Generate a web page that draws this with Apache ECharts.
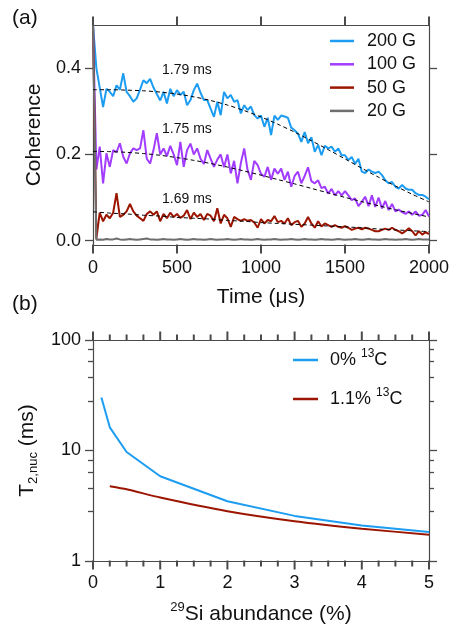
<!DOCTYPE html>
<html>
<head>
<meta charset="utf-8">
<script src="https://cdn.jsdelivr.net/npm/echarts@6/dist/echarts.min.js"></script>
<style>
html,body{margin:0;padding:0;background:#fff;}
#chart{width:456px;height:628px;}
</style>
</head>
<body>
<div id="chart"></div>
<script>
// ---------- Panel (a) data ----------
const TIME_STEP_US = 20;
const SERIES_NAMES_A = ['200 G', '100 G', '50 G', '20 G'];
const COH_200G = [0.50,0.40,0.355,0.31,0.352,0.345,0.335,0.36,0.35,0.388,
 0.345,0.335,0.322,0.33,0.35,0.372,0.365,0.375,0.355,0.34,
 0.325,0.345,0.318,0.352,0.335,0.349,0.338,0.345,0.314,0.326,
 0.349,0.364,0.343,0.326,0.326,0.306,0.287,0.322,0.291,0.345,
 0.33,0.338,0.322,0.326,0.295,0.314,0.303,0.311,0.291,0.283,
 0.29,0.264,0.285,0.245,0.29,0.28,0.29,0.288,0.285,0.262,
 0.256,0.248,0.229,0.252,0.226,0.24,0.206,0.222,0.198,0.22,
 0.214,0.218,0.206,0.214,0.198,0.198,0.187,0.194,0.178,0.19,
 0.16,0.157,0.165,0.16,0.157,0.16,0.152,0.14,0.133,0.136,
 0.125,0.121,0.129,0.121,0.118,0.118,0.11,0.106,0.106,0.102,
 0.096];
const COH_100G = [0.50,0.165,0.218,0.133,0.2025,0.171,0.21,0.205,0.2256,0.1946,
 0.179,0.2025,0.214,0.21,0.214,0.256,0.19,0.179,0.21,0.249,
 0.2,0.214,0.196,0.22,0.2,0.175,0.229,0.171,0.21,0.225,
 0.2,0.214,0.19,0.178,0.21,0.19,0.171,0.188,0.2,0.17,
 0.2,0.156,0.185,0.133,0.18,0.214,0.164,0.141,0.185,0.175,
 0.155,0.148,0.171,0.141,0.167,0.155,0.167,0.141,0.16,0.125,
 0.15,0.16,0.133,0.15,0.17,0.138,0.133,0.14,0.122,0.125,
 0.109,0.12,0.105,0.115,0.105,0.115,0.105,0.094,0.098,0.08,
 0.09,0.102,0.08,0.105,0.078,0.1,0.075,0.092,0.071,0.085,
 0.068,0.072,0.066,0.062,0.068,0.06,0.068,0.058,0.06,0.071,
 0.056];
const COH_50G = [0.50,0.005,0.065,0.045,0.06,0.052,0.065,0.11,0.055,0.06,
 0.068,0.085,0.068,0.058,0.052,0.046,0.062,0.068,0.06,0.068,
 0.045,0.062,0.052,0.065,0.055,0.062,0.053,0.058,0.071,0.05,
 0.065,0.055,0.062,0.048,0.062,0.058,0.045,0.075,0.04,0.06,
 0.052,0.032,0.055,0.05,0.046,0.05,0.046,0.048,0.042,0.03,
 0.05,0.04,0.048,0.045,0.057,0.043,0.046,0.04,0.052,0.036,
 0.043,0.046,0.032,0.04,0.055,0.04,0.03,0.045,0.033,0.04,
 0.036,0.032,0.036,0.032,0.03,0.034,0.03,0.025,0.028,0.03,
 0.026,0.03,0.028,0.025,0.022,0.022,0.025,0.028,0.025,0.03,
 0.025,0.022,0.017,0.022,0.029,0.022,0.012,0.022,0.014,0.02,
 0.015];
const COH_20G = [0.50,0.002,0.003,0.002,0.004,0.003,0.003,0.005,0.003,0.002,
 0.003,0.004,0.003,0.002,0.003,0.004,0.005,0.003,0.003,0.002,
 0.003,0.004,0.003,0.003,0.002,0.003,0.004,0.003,0.002,0.003,
 0.004,0.003,0.003,0.002,0.003,0.004,0.003,0.002,0.003,0.003,
 0.004,0.003,0.002,0.003,0.004,0.003,0.003,0.002,0.003,0.004,
 0.003,0.002,0.003,0.003,0.004,0.003,0.002,0.003,0.003,0.004,
 0.003,0.002,0.003,0.004,0.003,0.003,0.002,0.003,0.004,0.003,
 0.003,0.002,0.003,0.004,0.003,0.002,0.003,0.003,0.004,0.003,
 0.002,0.003,0.004,0.003,0.003,0.002,0.003,0.004,0.003,0.003,
 0.002,0.003,0.003,0.004,0.003,0.002,0.003,0.004,0.003,0.003,
 0.003];
const FIT_STEP_US = 100;
const FIT_200G = [0.35,0.35,0.349,0.3475,0.3445,0.34,0.3335,0.325,0.3144,0.3016,0.2868,0.27,0.2517,0.2317,0.211,0.1896,0.168,0.147,0.1268,0.1076,0.09];
const FIT_100G = [0.207,0.2065,0.2048,0.202,0.1979,0.1926,0.1862,0.1789,0.1707,0.1615,0.1519,0.1417,0.1317,0.1212,0.1108,0.1004,0.0906,0.0809,0.0717,0.0632,0.055];
const FIT_50G = [0.067,0.064,0.062,0.059,0.057,0.054,0.052,0.05,0.047,0.045,0.042,0.04,0.038,0.036,0.034,0.032,0.03,0.027,0.025,0.023,0.021];
const FIT_LABELS = ['1.79 ms', '1.75 ms', '1.69 ms'];
const X_TICKS_A = [0, 500, 1000, 1500, 2000];
const Y_TICKS_A = [0, 0.2, 0.4];

// ---------- Panel (b) data ----------
const SERIES_NAMES_B = ['0% 13C', '1.1% 13C'];
const SI_ABUND_0C = [0.125, 0.25, 0.5, 1, 2, 3, 4, 5];
const T2_0C = [30.2, 16.2, 9.7, 5.85, 3.47, 2.56, 2.1, 1.83];
const SI_ABUND_11C = [0.25, 0.5, 1, 2, 3, 4, 5];
const T2_11C = [4.75, 4.46, 3.75, 2.82, 2.29, 1.96, 1.73];
const X_TICKS_B = [0, 1, 2, 3, 4, 5];
const X_MINOR_TICKS_B = [0.25, 0.5, 0.75, 1.25, 1.5, 1.75, 2.25, 2.5, 2.75, 3.25, 3.5, 3.75, 4.25, 4.5, 4.75];
const Y_TICKS_B = [1, 10, 100];
const Y_MINOR_TICKS_B = [2.8, 4.6, 6.4, 8.2, 28, 46, 64, 82];

// ---------- axis ranges ----------
const X_RANGE_A = [0, 2000], Y_RANGE_A = [-0.01, 0.5];
const X_RANGE_B = [0, 5], Y_RANGE_B = [1, 100];

// ---------- styling ----------
const FONT = '"Liberation Sans", Arial, Helvetica, sans-serif';
const AX = '#4a4a4a';
const TXT = '#111';
const C_BLUE = '#1d9df2', C_PURPLE = '#a23cff', C_RED = '#9b1500', C_GREY = '#6e6e6e';
const TW = 1.3;   // y tick width
const XTW = 2;    // x tick width

const timeAxis = COH_200G.map((_, i) => i * TIME_STEP_US);
const fitTime = FIT_200G.map((_, i) => i * FIT_STEP_US);
const zip = (xs, ys) => xs.map((x, i) => [x, ys[i]]);

const mkLine = () => ({show: true, onZero: false, lineStyle: {color: AX, width: 1.2}});
const noLine = () => ({show: false, onZero: false});
const mkYTick = (len, vals) => ({show: true, length: len, customValues: vals, lineStyle: {color: AX, width: TW}});
const labelStyle = () => ({color: TXT, fontSize: 18, fontFamily: FONT});
const plainNum = v => String(v);

const chart = echarts.init(document.getElementById('chart'), null, {renderer: 'canvas'});

const rich = {
  t: {fontSize: 21, fontFamily: FONT, color: TXT, lineHeight: 26},
  sub: {fontSize: 13, fontFamily: FONT, color: TXT, lineHeight: 13, padding: [13, 0, 0, 0], verticalAlign: 'bottom'},
  sup: {fontSize: 13, fontFamily: FONT, color: TXT, lineHeight: 13, padding: [0, 0, 11, 0], verticalAlign: 'top'}
};
const legendRich = {
  t: {fontSize: 18, fontFamily: FONT, color: TXT, lineHeight: 24},
  sup: {fontSize: 12, fontFamily: FONT, color: TXT, lineHeight: 12, padding: [0, 0, 10, 0], verticalAlign: 'top'}
};

const hiddenAxis = (extra) => Object.assign({axisLabel: {show: false}, splitLine: {show: false}}, extra);

const grids = [
  {left: 93, top: 25, width: 336, height: 220},
  {left: 93, top: 340, width: 336, height: 221}
];
const xAxes = [
  {gridIndex: 0, type: 'value', min: X_RANGE_A[0], max: X_RANGE_A[1], interval: 500,
   axisLine: mkLine(), axisTick: {show: false},
   axisLabel: Object.assign({margin: 14, formatter: plainNum}, labelStyle()),
   splitLine: {show: false},
   name: 'Time (\u03bcs)', nameLocation: 'middle', nameGap: 42,
   nameTextStyle: {fontSize: 21, fontFamily: FONT, color: TXT}},
  hiddenAxis({gridIndex: 0, type: 'value', position: 'top', min: X_RANGE_A[0], max: X_RANGE_A[1], interval: 500,
   axisLine: mkLine(), axisTick: {show: false}}),
  {gridIndex: 1, type: 'value', min: X_RANGE_B[0], max: X_RANGE_B[1], interval: 1,
   axisLine: mkLine(), axisTick: {show: false},
   axisLabel: Object.assign({margin: 13, formatter: plainNum}, labelStyle()),
   splitLine: {show: false},
   name: '{sup|29}{t|Si abundance (%)}', nameLocation: 'middle', nameGap: 40,
   nameTextStyle: {fontSize: 21, fontFamily: FONT, color: TXT, rich: rich}},
  hiddenAxis({gridIndex: 1, type: 'value', position: 'top', min: X_RANGE_B[0], max: X_RANGE_B[1], interval: 1,
   axisLine: mkLine(), axisTick: {show: false}})
];
const yAxes = [
  {gridIndex: 0, type: 'value', position: 'left', min: Y_RANGE_A[0], max: Y_RANGE_A[1],
   axisLine: mkLine(), axisTick: mkYTick(8, Y_TICKS_A),
   axisLabel: Object.assign({margin: 12, customValues: Y_TICKS_A, formatter: v => Number(v).toFixed(1)}, labelStyle()),
   splitLine: {show: false},
   name: 'Coherence', nameLocation: 'middle', nameGap: 46,
   nameTextStyle: {fontSize: 21, fontFamily: FONT, color: TXT}},
  hiddenAxis({gridIndex: 0, type: 'value', position: 'right', min: Y_RANGE_A[0], max: Y_RANGE_A[1],
   axisLine: mkLine(), axisTick: mkYTick(8, Y_TICKS_A)}),
  {gridIndex: 1, type: 'log', logBase: 10, position: 'left', min: Y_RANGE_B[0], max: Y_RANGE_B[1],
   axisLine: mkLine(), axisTick: mkYTick(8, Y_TICKS_B),
   axisLabel: Object.assign({margin: 12, formatter: plainNum, customValues: Y_TICKS_B}, labelStyle()),
   splitLine: {show: false},
   name: '{t|T}{sub|2,nuc}{t| (ms)}', nameLocation: 'middle', nameGap: 41,
   nameTextStyle: {fontSize: 21, fontFamily: FONT, color: TXT, rich: rich}},
  hiddenAxis({gridIndex: 1, type: 'log', logBase: 10, position: 'left', min: Y_RANGE_B[0], max: Y_RANGE_B[1],
   axisLine: noLine(), axisTick: mkYTick(5, Y_MINOR_TICKS_B)}),
  hiddenAxis({gridIndex: 1, type: 'log', logBase: 10, position: 'right', min: Y_RANGE_B[0], max: Y_RANGE_B[1],
   axisLine: mkLine(), axisTick: mkYTick(8, Y_TICKS_B)}),
  hiddenAxis({gridIndex: 1, type: 'log', logBase: 10, position: 'right', min: Y_RANGE_B[0], max: Y_RANGE_B[1],
   axisLine: noLine(), axisTick: mkYTick(5, Y_MINOR_TICKS_B)})
];

// x tick marks: thin strips (grids) just outside each frame edge; one rect symbol per
// tick value, positioned through that strip's own x scale (same left/width as the plot).
const tickStrips = [
  {top: 245, height: 8, range: X_RANGE_A, ticks: X_TICKS_A},
  {top: 17, height: 8, range: X_RANGE_A, ticks: X_TICKS_A},
  {top: 561, height: 8, range: X_RANGE_B, ticks: X_TICKS_B},
  {top: 561, height: 5, range: X_RANGE_B, ticks: X_MINOR_TICKS_B},
  {top: 332, height: 8, range: X_RANGE_B, ticks: X_TICKS_B},
  {top: 335, height: 5, range: X_RANGE_B, ticks: X_MINOR_TICKS_B}
];
const tickSeries = [];
tickStrips.forEach(s => {
  const gi = grids.length;
  grids.push({left: 93, top: s.top, width: 336, height: s.height});
  const xi = xAxes.length, yi = yAxes.length;
  xAxes.push({gridIndex: gi, type: 'value', show: false, min: s.range[0], max: s.range[1]});
  yAxes.push({gridIndex: gi, type: 'value', show: false, min: 0, max: 1});
  tickSeries.push({type: 'scatter', xAxisIndex: xi, yAxisIndex: yi, silent: true, clip: false, z: 10,
    data: s.ticks.map(x => [x, 0.5]), symbol: 'rect', symbolSize: [XTW, s.height + 1],
    itemStyle: {color: AX, opacity: 1}, emphasis: {disabled: true}});
});

const option = {
  animation: false,
  backgroundColor: '#fff',
  grid: grids,
  xAxis: xAxes,
  yAxis: yAxes,
  legend: [
    {data: SERIES_NAMES_A, orient: 'vertical', left: 330, top: 32, padding: 0,
     icon: 'rect', itemWidth: 24, itemHeight: 2.5, itemGap: 5.3,
     textStyle: {fontSize: 18, fontFamily: FONT, color: TXT, lineHeight: 18, padding: [0, 0, 0, 8]}},
    {data: SERIES_NAMES_B, orient: 'vertical', left: 293, top: 348, padding: 0,
     icon: 'rect', itemWidth: 25, itemHeight: 2.5, itemGap: 17,
     formatter: name => {
       const m = name.match(/^(.*) (\d+)C$/);
       return '{t|' + m[1] + ' }{sup|' + m[2] + '}{t|C}';
     },
     textStyle: {fontSize: 18, fontFamily: FONT, color: TXT, padding: [0, 0, 0, 7], rich: legendRich}}
  ],
  graphic: [
    {type: 'text', left: 12, top: 8, style: {text: '(a)', font: '21px ' + FONT, fill: TXT}},
    {type: 'text', left: 12, top: 294, style: {text: '(b)', font: '21px ' + FONT, fill: TXT}},
    {type: 'text', left: 162, top: 63, style: {text: FIT_LABELS[0], font: '14px ' + FONT, fill: TXT}},
    {type: 'text', left: 162, top: 122, style: {text: FIT_LABELS[1], font: '14px ' + FONT, fill: TXT}},
    {type: 'text', left: 162, top: 192, style: {text: FIT_LABELS[2], font: '14px ' + FONT, fill: TXT}}
  ],
  series: [
    {name: '200 G', type: 'line', xAxisIndex: 0, yAxisIndex: 0, data: zip(timeAxis, COH_200G),
     symbol: 'none', lineStyle: {color: C_BLUE, width: 2}, itemStyle: {color: C_BLUE}},
    {name: '100 G', type: 'line', xAxisIndex: 0, yAxisIndex: 0, data: zip(timeAxis, COH_100G),
     symbol: 'none', lineStyle: {color: C_PURPLE, width: 2}, itemStyle: {color: C_PURPLE}},
    {name: '50 G', type: 'line', xAxisIndex: 0, yAxisIndex: 0, data: zip(timeAxis, COH_50G),
     symbol: 'none', lineStyle: {color: C_RED, width: 2}, itemStyle: {color: C_RED}},
    {name: '20 G', type: 'line', xAxisIndex: 0, yAxisIndex: 0, data: zip(timeAxis, COH_20G),
     symbol: 'none', lineStyle: {color: C_GREY, width: 2}, itemStyle: {color: C_GREY}},
    {name: 'fit200', type: 'line', xAxisIndex: 0, yAxisIndex: 0, data: zip(fitTime, FIT_200G),
     symbol: 'none', smooth: 0.3, lineStyle: {color: '#000', width: 1, type: [4, 3]}, z: 5},
    {name: 'fit100', type: 'line', xAxisIndex: 0, yAxisIndex: 0, data: zip(fitTime, FIT_100G),
     symbol: 'none', smooth: 0.3, lineStyle: {color: '#000', width: 1, type: [4, 3]}, z: 5},
    {name: 'fit50', type: 'line', xAxisIndex: 0, yAxisIndex: 0, data: zip(fitTime, FIT_50G),
     symbol: 'none', smooth: 0.3, lineStyle: {color: '#000', width: 1, type: [4, 3]}, z: 5},
    {name: '0% 13C', type: 'line', xAxisIndex: 2, yAxisIndex: 2, data: zip(SI_ABUND_0C, T2_0C),
     symbol: 'none', lineStyle: {color: C_BLUE, width: 2}, itemStyle: {color: C_BLUE}},
    {name: '1.1% 13C', type: 'line', xAxisIndex: 2, yAxisIndex: 2, data: zip(SI_ABUND_11C, T2_11C),
     symbol: 'none', smooth: 0.2, lineStyle: {color: C_RED, width: 2}, itemStyle: {color: C_RED}}
  ].concat(tickSeries)
};
chart.setOption(option);
</script>
</body>
</html>
